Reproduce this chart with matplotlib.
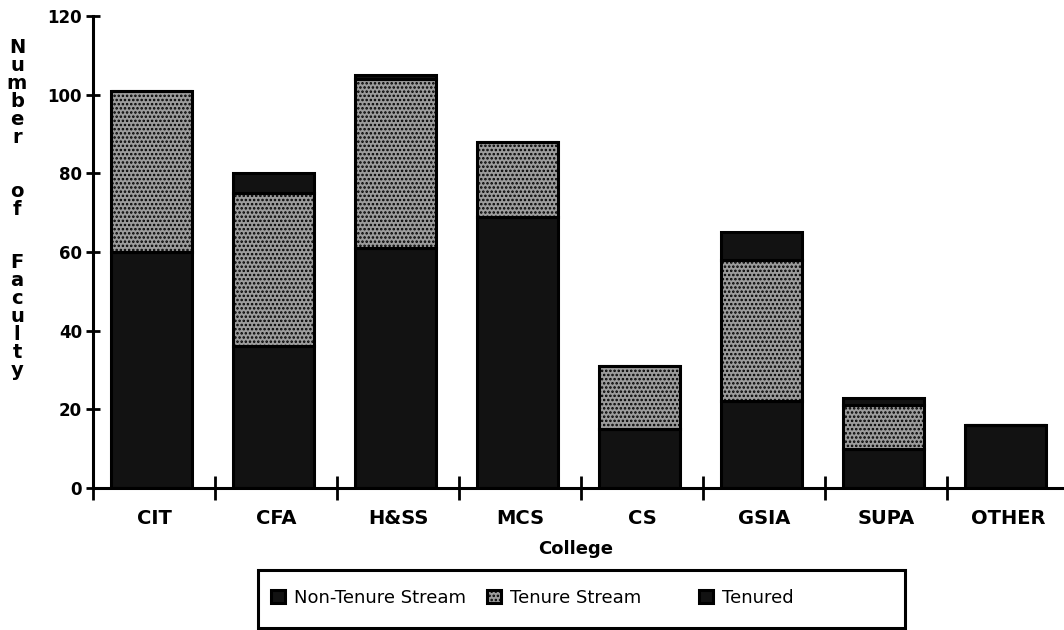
import matplotlib
matplotlib.use('Agg')
import matplotlib.pyplot as plt
from matplotlib.patches import Rectangle

# Data
colleges = ['CIT', 'CFA', 'H&SS', 'MCS', 'CS', 'GSIA', 'SUPA', 'OTHER']
tenured = [60, 36, 61, 69, 15, 22, 10, 16]
tenure_stream = [41, 39, 43, 19, 16, 36, 11, 0]
non_tenure_stream = [0, 5, 1, 0, 0, 7, 2, 0]
y_ticks = [0, 20, 40, 60, 80, 100, 120]
y_label = 'Number of Faculty'

plt.rcParams['font.family'] = ['DejaVu Sans']
plt.rcParams['hatch.color'] = '#000000'
plt.rcParams['hatch.linewidth'] = 1.2

W, H = 1064, 630
fig = plt.figure(figsize=(W / 100, H / 100), dpi=100)
ax = fig.add_axes([93 / W, (H - 488) / H, 976 / W, 472 / H])

x = list(range(len(colleges)))
bottom2 = [a + b for a, b in zip(tenured, tenure_stream)]
xpos = [i - 0.02 for i in x]

b1 = ax.bar(xpos, tenured, width=0.66, color='#121212',
            edgecolor='black', linewidth=2.2, label='Tenured')
b2 = ax.bar(xpos, tenure_stream, width=0.66, bottom=tenured,
            color='#9c9c9c', hatch='....', edgecolor='black', linewidth=2.2,
            label='Tenure Stream')
b3 = ax.bar(xpos, non_tenure_stream, width=0.66, bottom=bottom2,
            color='#121212', edgecolor='black', linewidth=2.2,
            label='Non-Tenure Stream')

ax.set_xlim(-0.5, len(colleges) - 0.5)
ax.set_ylim(0, 120)

for s in ['top', 'right']:
    ax.spines[s].set_visible(False)
for s in ['left', 'bottom']:
    ax.spines[s].set_linewidth(2.2)

ax.set_yticks(y_ticks)
ax.set_yticklabels([str(v) for v in y_ticks], fontsize=12, fontweight='bold')
ax.tick_params(axis='y', direction='inout', length=10, width=2, pad=3)

# ticks at the boundaries, labels at the centres
ax.set_xticks([i - 0.5 for i in x])
ax.set_xticklabels([''] * len(x))
ax.set_xticks(x, minor=True)
ax.set_xticklabels(colleges, minor=True, fontsize=14, fontweight='bold')
ax.tick_params(axis='x', which='major', direction='inout', length=17, width=2)
ax.tick_params(axis='x', which='minor', length=0, pad=15)

ax.set_xlabel('College', fontsize=13, fontweight='bold')
ax.xaxis.set_label_coords((576 - 93) / 976, -52 / 472)

# vertical stacked axis label
fig.text(17 / W, 1 - 38 / H, '\n'.join(y_label.replace(' ', '  ')).replace('\n \n', '\n\n'),
         fontsize=14, fontweight='bold', ha='center', va='top', linespacing=0.93)

# legend box
fig.patches.append(Rectangle((258 / W, (H - 628) / H), 647 / W, 58 / H,
                             transform=fig.transFigure, fill=False,
                             edgecolor='black', linewidth=2.2))
for bars, name, xl in [(b3, 'Non-Tenure Stream', 266), (b2, 'Tenure Stream', 482),
                       (b1, 'Tenured', 694)]:
    leg = fig.legend([bars], [name], frameon=False, loc='center left',
                     bbox_to_anchor=(xl / W, 1 - 598 / H), fontsize=13,
                     handlelength=0.75, handleheight=0.75, handletextpad=0.5,
                     borderaxespad=0, borderpad=0.3)

fig.savefig('out.png', dpi=100)
